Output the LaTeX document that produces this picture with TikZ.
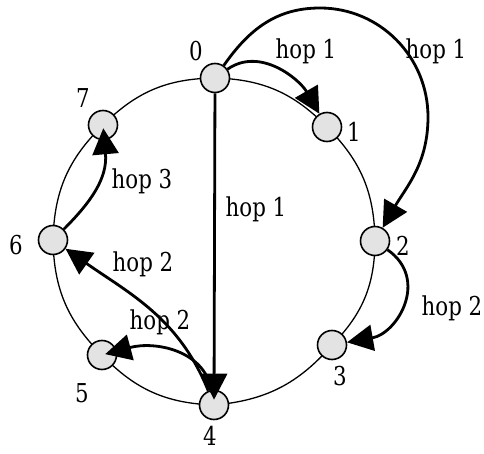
\documentclass[tikz,border=0pt]{standalone}
\usepackage{fontspec}
\setmainfont{DejaVu Serif}[FakeStretch=0.82]
\usetikzlibrary{arrows.meta,backgrounds}
\begin{document}
\begin{tikzpicture}[x=1pt,y=1pt,
  station/.style={circle,draw,line width=1.6pt,fill=gray!22,minimum size=29pt,inner sep=0pt},
  ring/.style={line width=1.3pt},
  hop/.style={line width=2.8pt,-{Triangle[length=26pt,width=26pt]}},
  lbl/.style={font=\fontsize{26}{28}\selectfont,inner sep=0pt},
]
\useasboundingbox (0,0) rectangle (484,-454);
% stations
\node[station] (n0) at (215,-78) {};
\node[station] (n1) at (327,-127) {};
\node[station] (n2) at (375,-241) {};
\node[station] (n3) at (332,-345) {};
\node[station] (n4) at (214,-405) {};
\node[station] (n5) at (102,-355) {};
\node[station] (n6) at (53,-240) {};
\node[station] (n7) at (103,-125) {};
% ring
\begin{scope}[on background layer]
\draw[ring] (n0.center) to[bend left=22] (n1.center)
  to[bend left=22] (n2.center) to[bend left=22] (n3.center)
  to[bend left=22] (n4.center) to[bend left=22] (n5.center)
  to[bend left=22] (n6.center) to[bend left=22] (n7.center)
  to[bend left=22] (n0.center);
\end{scope}
% station numbers
\node[lbl] (l0) at (196,-51) {0};
\node[lbl] (l1) at (354,-132) {1};
\node[lbl] (l2) at (403,-246) {2};
\node[lbl] (l3) at (340,-376) {3};
\node[lbl] (l4) at (210,-436) {4};
\node[lbl] (l5) at (82,-393) {5};
\node[lbl] (l6) at (16,-245) {6};
\node[lbl] (l7) at (83,-98) {7};
% hop connectors
\coordinate (a02) at (320,-8);
\coordinate (b02) at (428,-117);
\draw[hop] (n0) to[out=35,in=120] (n1);
\draw[hop] (n0) to[out=55,in=180] (a02) to[out=0,in=90] (b02) to[out=-90,in=60] (n2);
\draw[hop,shorten >=-10pt] (n0) -- (n4);
\draw[hop] (n2) to[out=-35,in=10,looseness=1.3] (n3);
\draw[hop] (n4) to[out=112,in=-35] (n6);
\draw[hop,shorten >=-12pt] (n4) to[out=100,in=15] (n5);
\draw[hop,shorten >=-12pt] (n6) to[out=45,in=-85] (n7);
% hop labels
\node[lbl] (h01) at (306,-51) {hop 1};
\node[lbl] (h02) at (436,-51) {hop 1};
\node[lbl] (h04) at (256,-209) {hop 1};
\node[lbl] (h67) at (142,-181) {hop 3};
\node[lbl] (h46) at (143,-264) {hop 2};
\node[lbl] (h45) at (160,-322) {hop 2};
\node[lbl] (h23) at (452,-308) {hop 2};
\end{tikzpicture}
\end{document}
